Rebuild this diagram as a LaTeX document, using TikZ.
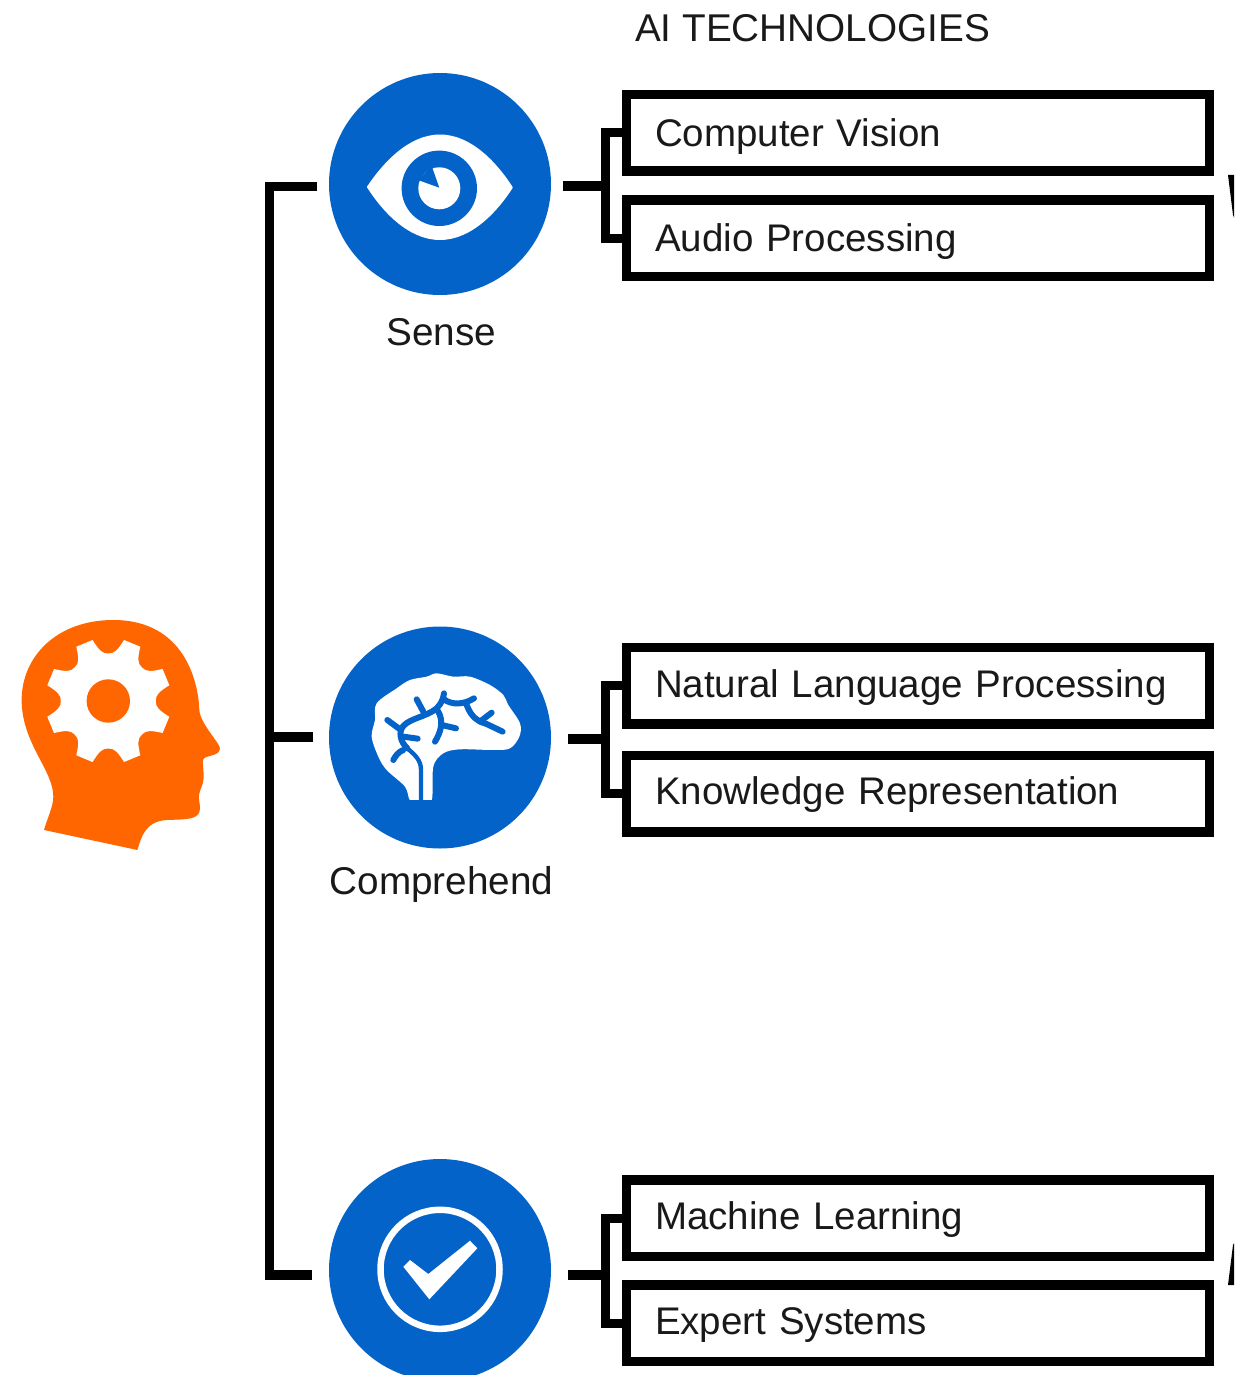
\documentclass[tikz,border=0pt]{standalone}
\usepackage{fontspec}
\setmainfont{Liberation Sans}
\definecolor{iconblue}{HTML}{0463C8}
\definecolor{headorange}{HTML}{FF6600}
\begin{document}
\begin{tikzpicture}[x=1pt,y=-1pt,
    every node/.style={font=\fontsize{38.7}{44}\selectfont,text=black!90},
    link/.style={draw=black,line width=9.5pt},
    techbox/.style={font=\fontsize{38.5}{44}\selectfont,draw=black,line width=9.5pt,minimum width=583pt,minimum height=76.5pt,
        inner xsep=28.5pt,inner ysep=0pt,text width=526pt,align=left,text height=27.7pt,text depth=0pt},
    iconball/.style={circle,fill=iconblue,minimum size=222pt,inner sep=0pt},
    vein/.style={draw=iconblue,line width=6pt,line cap=round,line join=round}]
 \clip (0,0) rectangle (1234,1375);
 \useasboundingbox (0,0) rectangle (1234,1375);

 \node[anchor=base] (title) at (812.5,42) {AI TECHNOLOGIES};

 % head with gear
 \begin{scope}[shift={(0,600)},scale=0.3333]
  \fill[headorange] (132,690) -- (412,750) .. controls (425,710) and (435,665) .. (500,660)
    .. controls (560,658) and (600,660) .. (600,625) .. controls (600,600) and (590,595) .. (605,560)
    .. controls (618,530) and (605,495) .. (610,478) .. controls (615,465) and (660,470) .. (660,445)
    .. controls (660,430) and (600,370) .. (598,330) .. controls (595,240) and (550,60) .. (340,60)
    .. controls (170,60) and (65,170) .. (65,300) .. controls (65,430) and (160,510) .. (160,590)
    .. controls (160,620) and (140,660) .. (132,690) -- cycle;
 \end{scope}
 \begin{scope}[shift={(108.3,701)}]
  \fill[white] (14.5:63)
   \foreach \a in {22.5,67.5,...,337.5} {
    -- (\a+8:63) .. controls (\a+12:52) and (\a+15:47.5) .. (\a+22.5:47.5)
    .. controls (\a+30:47.5) and (\a+33:52) .. (\a+37:63)
   } -- cycle;
  \fill[headorange] (0,0) circle (21.7);
 \end{scope}

 \node[iconball] (sense) at (440,184) {};
 \node[iconball] (comprehend) at (440,737.5) {};
 \node[iconball] (act) at (440,1270) {};

 \node[anchor=base] (senselabel) at (441.5,345) {Sense};
 \node[anchor=base] (comprehendlabel) at (441.5,894) {Comprehend};

 % eye
 \fill[white,draw=white,line width=2pt,line join=round] (368,187) .. controls (382,166) and (408,135.5) .. (440,135.5)
   .. controls (472,135.5) and (498,166) .. (511.7,187.5)
   .. controls (498,209) and (472,239) .. (440,239)
   .. controls (408,239) and (382,209) .. (368,187) -- cycle;
 \fill[iconblue] (439.3,188.3) circle (37.7);
 \fill[white] (439.3,188.3) circle (21);
 \fill[iconblue] (439.3,187.7) -- (431.7,166) -- (418,180) -- cycle;

 % brain
 \begin{scope}[shift={(320,620)},scale=0.3333]
  \fill[white] plot[smooth cycle,tension=0.55] coordinates {(270,541) (255,500) (200,450) (175,410)
    (155,350) (165,300) (170,250) (230,205) (270,180) (320,170) (350,160) (400,170) (450,170)
    (510,195) (550,225) (565,255) (600,310) (598,350) (570,385) (520,390) (420,388) (370,400)
    (340,440) (335,541) (300,545)};
  \fill[iconblue] (265,541) rectangle (340,560);
  \draw[vein,line width=4.3pt,line cap=butt] (303,545) -- (303,450) .. controls (303,420) and (285,405) .. (262,385);
  \draw[vein] (262,385) .. controls (240,365) and (235,335) .. (250,318)
    .. controls (270,295) and (320,290) .. (350,265) .. controls (365,250) and (370,235) .. (372,220);
  \draw[vein] (202,300) -- (240,328);
  \draw[vein] (250,350) -- (293,356);
  \draw[vein] (250,390) .. controls (235,395) and (225,410) .. (220,420);
  \draw[vein] (290,238) -- (310,275);
  \draw[vein] (352,270) .. controls (375,305) and (360,340) .. (345,365);
  \draw[vein] (365,315) -- (408,325);
  \draw[vein] (372,238) .. controls (395,255) and (430,255) .. (462,235);
  \draw[vein] (438,250) .. controls (450,280) and (460,300) .. (500,312) -- (548,335);
  \draw[vein] (480,305) -- (515,278);
 \end{scope}

 % check mark
 \draw[white,line width=6.5pt] (440,1269.3) circle (59.5);
 \fill[white] (403.3,1266.7) -- (410,1260) -- (428.3,1274) -- (470,1240.7) -- (477.3,1248.3) -- (429.3,1299.3) -- cycle;

 \node[techbox] (vision) at (918,132.75) {Computer Vision};
 \node[techbox,text depth=2pt] (audio) at (918,238.3) {Audio Processing};
 \node[techbox,text depth=4pt] (nlp) at (918,685.7) {Natural Language Processing};
 \node[techbox,text depth=6pt] (knowledge) at (918,793.7) {Knowledge Representation};
 \node[techbox,text depth=6pt] (learning) at (918,1218.3) {Machine Learning};
 \node[techbox,text depth=6pt] (expert) at (918,1323.3) {Expert Systems};

 \coordinate (trunktop) at (269.3,186.5);
 \coordinate (trunkmid) at (269.3,737);
 \coordinate (trunkbot) at (269.3,1275);
 \coordinate (senseleft) at (316.7,186.5);
 \coordinate (comprehendleft) at (313,737);
 \coordinate (actleft) at (311.7,1275);
 \draw[link,line join=miter] (senseleft) -- (trunktop) -- (trunkbot) -- (actleft);
 \draw[link] (trunkmid) -- (comprehendleft);

 \coordinate (sensefork) at (605.5,186);
 \coordinate (comprehendfork) at (605.5,739);
 \coordinate (actfork) at (605.5,1275);
 \coordinate (senseright) at (563,186);
 \coordinate (comprehendright) at (567.7,739);
 \coordinate (actright) at (567.7,1275);
 \draw[link] (vision.west) -| (sensefork) |- (audio.west);
 \draw[link] (senseright) -- (sensefork);
 \draw[link] (nlp.west) -| (comprehendfork) |- (knowledge.west);
 \draw[link] (comprehendright) -- (comprehendfork);
 \draw[link] (learning.west) -| (actfork) |- (expert.west);
 \draw[link] (actright) -- (actfork);

 % cut-off shapes at the right edge
 \fill[black] (1228,175) -- (1236,175) -- (1236,222) -- (1233,215) -- cycle;
 \fill[black] (1228,1285) -- (1236,1285) -- (1236,1240) -- (1233,1245) -- cycle;
\end{tikzpicture}
\end{document}
